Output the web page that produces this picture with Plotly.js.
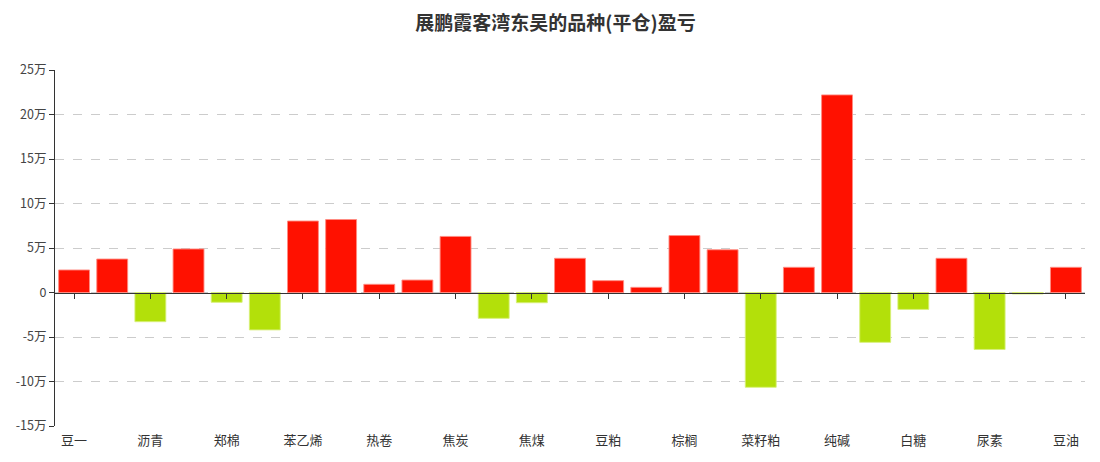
<!DOCTYPE html>
<html>
<head>
<meta charset="utf-8">
<script src="https://cdn.plot.ly/plotly-3.0.1.min.js"></script>
<style>html,body{margin:0;padding:0;background:#fff;}#chart{width:1100px;height:462px;}</style>
</head>
<body>
<div id="chart"></div>
<script>
const chartTitle = "展鹏霞客湾东吴的品种(平仓)盈亏";
const categories = ["豆一","苹果","沥青","玉米","郑棉","乙二醇","苯乙烯","玻璃","热卷","铁矿石","焦炭","鸡蛋","焦煤","塑料","豆粕","甲醇","棕榈","螺纹钢","菜籽粕","橡胶","纯碱","锰硅","白糖","PTA","尿素","PVC","豆油"];
const profit = [25300, 37600, -32800, 48900, -11000, -42000, 80300, 82000, 9200, 14000, 63000, -29000, -11500, 38400, 13300, 5800, 64000, 48000, -106500, 28300, 222000, -56000, -19000, 38400, -64000, -1700, 28300];
const yTickVals = [-150000, -100000, -50000, 0, 50000, 100000, 150000, 200000, 250000];
const yTickText = ["-15万", "-10万", "-5万", "0", "5万", "10万", "15万", "20万", "25万"];
const gainColor = "#ff1100";
const lossColor = "#b3e00a";

const labeledCats = categories.filter((c, i) => i % 2 === 0);
const colors = profit.map(v => v >= 0 ? gainColor : lossColor);
const lineColors = profit.map(v => v >= 0 ? "rgba(255,140,130,0.9)" : "rgba(215,240,120,0.9)");
const yMin = -150000, yMax = 250000;

const traces = [
  {
    type: "bar",
    x: categories,
    y: profit,
    marker: { color: colors, line: { color: lineColors, width: 1 } },
    hoverinfo: "x+y"
  },
  {
    type: "scatter",
    mode: "markers",
    x: categories,
    y: categories.map(() => null),
    xaxis: "x2",
    showlegend: false,
    hoverinfo: "skip"
  }
];

const layout = {
  width: 1100,
  height: 462,
  margin: { l: 55, r: 15, t: 70, b: 36 },
  paper_bgcolor: "#fff",
  plot_bgcolor: "#fff",
  showlegend: false,
  bargap: 0.19,
  font: { family: "'Noto Sans CJK SC', 'Noto Sans', sans-serif", size: 12, color: "#333" },
  title: {
    text: chartTitle,
    x: 0.505, xanchor: "center",
    y: 0.95, yanchor: "middle",
    font: { family: "'Noto Sans CJK SC', sans-serif", size: 19, color: "#333", weight: "bold" }
  },
  xaxis: {
    type: "category",
    categoryorder: "array",
    categoryarray: categories,
    range: [-0.5, categories.length - 0.5],
    tickmode: "array",
    tickvals: labeledCats,
    ticktext: labeledCats,
    showline: false,
    showgrid: false,
    zeroline: false,
    ticks: "",
    ticklabelstandoff: 5,
    tickfont: { size: 13, color: "#333" },
    fixedrange: true
  },
  xaxis2: {
    type: "category",
    overlaying: "x",
    matches: "x",
    anchor: "free",
    position: (0 - yMin) / (yMax - yMin),
    side: "bottom",
    tickmode: "array",
    tickvals: labeledCats,
    showticklabels: false,
    showline: true,
    linecolor: "#333",
    linewidth: 1,
    ticks: "outside",
    ticklen: 5,
    tickcolor: "#333",
    showgrid: false,
    zeroline: false
  },
  yaxis: {
    range: [yMin, yMax],
    tickmode: "array",
    tickvals: yTickVals,
    ticktext: yTickText,
    showline: true,
    linecolor: "#333",
    linewidth: 1,
    ticks: "outside",
    ticklen: 5,
    tickcolor: "#333",
    showgrid: true,
    gridcolor: "#cccccc",
    griddash: "dash",
    gridwidth: 1,
    zeroline: false,
    tickfont: { size: 12.5, color: "#444" },
    fixedrange: true
  }
};

Plotly.newPlot("chart", traces, layout, { displayModeBar: false, staticPlot: true });
</script>
</body>
</html>
